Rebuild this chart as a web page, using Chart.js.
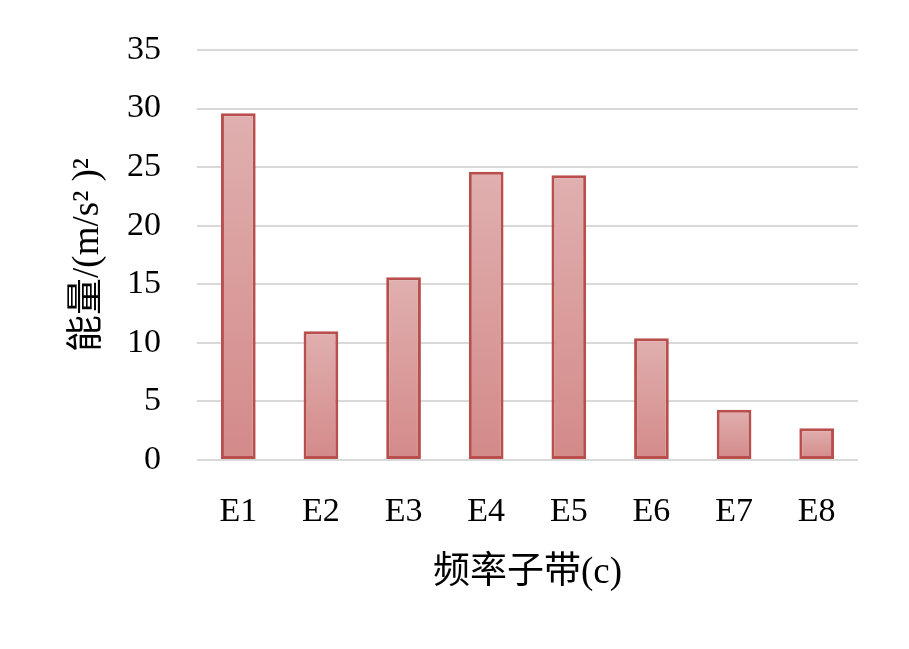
<!DOCTYPE html>
<html>
<head>
<meta charset="utf-8">
<script src="https://cdn.jsdelivr.net/npm/chart.js@4.4.0/dist/chart.umd.min.js"></script>
<style>
  html, body { margin: 0; padding: 0; background: #fff; }
  canvas { display: block; }
</style>
</head>
<body>
<canvas id="energyChart" width="909" height="649"></canvas>
<script>
// Data
const bands = ['E1', 'E2', 'E3', 'E4', 'E5', 'E6', 'E7', 'E8'];
const energy = [29.6, 11.0, 15.6, 24.6, 24.3, 10.4, 4.3, 2.7];
const yTicks = [0, 5, 10, 15, 20, 25, 30, 35];

const fontFamily = '"Liberation Serif", "Times New Roman", "Noto Sans CJK SC", serif';

// per-bar vertical gradient, light at the top, darker at the bottom
function barFill(c) {
    const chart = c.chart;
    if (c.type !== 'data' || !chart.chartArea) return '#d99a9a';
    const y = chart.scales.y;
    const top = y.getPixelForValue(c.raw);
    const bot = y.getPixelForValue(0);
    const g = chart.ctx.createLinearGradient(0, top, 0, bot);
    g.addColorStop(0, '#e0afaf');
    g.addColorStop(1, '#d38a89');
    return g;
}

new Chart(document.getElementById('energyChart'), {
    type: 'bar',
    data: {
        labels: bands,
        datasets: [{
            data: energy,
            backgroundColor: barFill,
            borderColor: '#b94f4d',
            borderWidth: 3,
            borderSkipped: false,
            categoryPercentage: 0.42,
            barPercentage: 1.0
        }]
    },
    options: {
        responsive: false,
        animation: false,
        layout: { padding: { left: 66, right: 51, top: 50, bottom: 54 } },
        plugins: {
            legend: { display: false },
            tooltip: { enabled: false }
        },
        scales: {
            x: {
                grid: { display: false, drawTicks: false },
                border: { display: false },
                ticks: {
                    color: '#000',
                    padding: 32,
                    font: { family: fontFamily, size: 34 }
                },
                title: {
                    display: true,
                    text: '频率子带(c)',
                    color: '#000',
                    padding: { top: 18, bottom: 0 },
                    font: { family: fontFamily, size: 37 }
                },
                afterFit: function(scale) { scale.height = 135; }
            },
            y: {
                min: 0,
                max: 35,
                afterBuildTicks: function(scale) {
                    scale.ticks = yTicks.map(v => ({ value: v }));
                },
                grid: { color: '#d9d9d9', lineWidth: 2, drawTicks: false },
                border: { display: false },
                ticks: {
                    color: '#000',
                    padding: 36,
                    font: { family: fontFamily, size: 34 }
                },
                title: {
                    display: true,
                    text: '能量/(m/s² )²',
                    color: '#000',
                    padding: { top: 0, bottom: 0 },
                    font: { family: fontFamily, size: 37 }
                },
                afterFit: function(scale) {
                    scale.width = 131;
                    scale.paddingTop = 0;
                    scale.paddingBottom = 0;
                }
            }
        }
    }
});
</script>
</body>
</html>
